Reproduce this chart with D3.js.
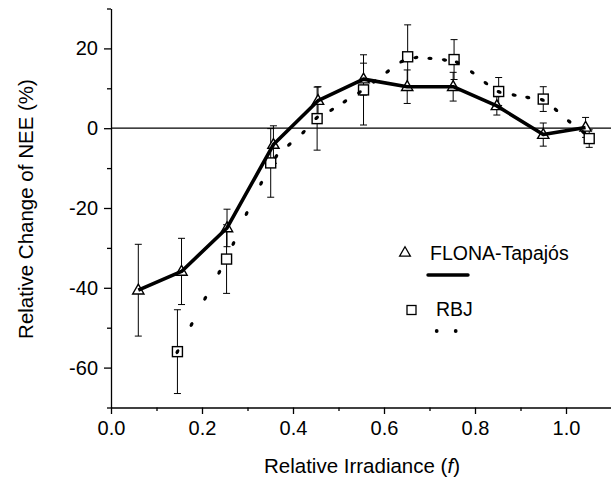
<!DOCTYPE html>
<meta charset="utf-8">
<style>
body { margin: 0; background: #fff; }
text { font-family: "Liberation Sans", Arial, sans-serif; fill: #000; }
.axis path, .axis line { stroke: #000; stroke-width: 1.3px; }
.axis text { font-size: 20px; }
</style>
<body>
<script src="https://d3js.org/d3.v7.min.js"></script>
<script>

// FLONA-Tapajos: relative irradiance, relative change of NEE (%), error
var flonaF   = [0.060, 0.155, 0.255, 0.357, 0.455, 0.555, 0.651, 0.752, 0.848, 0.950, 1.043];
var flonaVal = [-40.6, -35.9, -25.0, -4.1, 6.9, 12.3, 10.4, 10.4, 5.6, -1.6, 0.2];
var flonaErr = [11.5, 8.3, 4.7, 4.7, 3.5, 4.0, 4.2, 3.6, 2.3, 2.9, 2.5];

// RBJ
var rbjF   = [0.146, 0.254, 0.351, 0.453, 0.555, 0.652, 0.754, 0.852, 0.950, 1.051];
var rbjVal = [-56.0, -32.8, -8.7, 2.4, 9.6, 17.9, 17.2, 9.2, 7.3, -2.6];
var rbjErr = [10.5, 8.6, 8.6, 7.9, 8.8, 8.0, 5.0, 3.5, 3.1, 2.2];

// RBJ dotted curve, read dot by dot
var rbjCurveF = [0.146, 0.177, 0.207, 0.238, 0.269, 0.298, 0.330, 0.363, 0.392, 0.423, 0.452,
                 0.485, 0.514, 0.546, 0.579, 0.608, 0.639, 0.670, 0.701, 0.733, 0.761, 0.794,
                 0.824, 0.853, 0.886, 0.916, 0.948, 0.978, 1.007, 1.038];
var rbjCurveVal = [-56.0, -49.2, -42.6, -36.1, -28.9, -21.4, -13.8, -7.1, -4.1, -1.0, 2.6,
                   4.6, 6.7, 9.0, 11.7, 14.2, 16.7, 17.7, 17.5, 17.1, 16.5, 14.0,
                   11.3, 9.1, 8.3, 7.7, 7.1, 4.6, 1.7, -1.0];

var xTicks = [0, 0.1, 0.2, 0.3, 0.4, 0.5, 0.6, 0.7, 0.8, 0.9, 1.0];
var yTicks = [-70, -60, -50, -40, -30, -20, -10, 0, 10, 20, 30];

var width = 611, height = 477;

var x = d3.scaleLinear().domain([0, 1.1]).range([111, 611.5]);
var y = d3.scaleLinear().domain([-70, 30]).range([407.5, 8.5]);

var svg = d3.select("body").append("svg")
    .attr("width", width)
    .attr("height", height);

var isMajorX = function(d) { return Math.round(d * 10) % 2 === 0; };
var isMajorY = function(d) { return d % 20 === 0; };

// y axis: minor then major ticks
svg.append("g")
    .attr("class", "axis")
    .attr("transform", "translate(" + x(0) + ",0)")
    .call(d3.axisLeft(y).tickValues(yTicks.filter(function(d) { return !isMajorY(d); }))
      .tickSize(4).tickSizeOuter(0).tickFormat(""));
svg.append("g")
    .attr("class", "axis")
    .attr("transform", "translate(" + x(0) + ",0)")
    .call(d3.axisLeft(y).tickValues(yTicks.filter(isMajorY))
      .tickSize(7).tickSizeOuter(0).tickPadding(6).tickFormat(function(d) { return String(d); }))
    .call(function(g) { g.select(".domain").remove(); });

// x axis
svg.append("g")
    .attr("class", "axis")
    .attr("transform", "translate(0," + y(-70) + ")")
    .call(d3.axisBottom(x).tickValues(xTicks.filter(function(d) { return !isMajorX(d); }))
      .tickSize(3.5).tickSizeOuter(0).tickFormat(""));
svg.append("g")
    .attr("class", "axis")
    .attr("transform", "translate(0," + y(-70) + ")")
    .call(d3.axisBottom(x).tickValues(xTicks.filter(isMajorX))
      .tickSize(6.5).tickSizeOuter(0).tickPadding(7).tickFormat(d3.format(".1f")))
    .call(function(g) { g.select(".domain").remove(); });

// zero line
svg.append("line")
    .attr("x1", x(0)).attr("x2", x(1.1))
    .attr("y1", y(0)).attr("y2", y(0))
    .attr("stroke", "#000").attr("stroke-width", 1.3);

// axis titles
svg.append("text")
    .attr("transform", "translate(33," + 209 + ") rotate(-90)")
    .attr("text-anchor", "middle")
    .style("font-size", "20.5px")
    .text("Relative Change of NEE (%)");

var xt = svg.append("text")
    .attr("x", 362).attr("y", 473)
    .attr("text-anchor", "middle")
    .style("font-size", "20.5px");
xt.append("tspan").text("Relative Irradiance (");
xt.append("tspan").style("font-style", "italic").text("f");
xt.append("tspan").text(")");

var flona = flonaF.map(function(f, i) { return {f: f, v: flonaVal[i], e: flonaErr[i]}; });
var rbj = rbjF.map(function(f, i) { return {f: f, v: rbjVal[i], e: rbjErr[i]}; });
var rbjCurve = rbjCurveF.map(function(f, i) { return {f: f, v: rbjCurveVal[i]}; });

// error bars
function errorBars(data) {
  var g = svg.append("g").attr("stroke", "#000").attr("stroke-width", 1);
  data.forEach(function(d) {
    var cx = x(d.f);
    g.append("line").attr("x1", cx).attr("x2", cx)
      .attr("y1", y(d.v - d.e)).attr("y2", y(d.v + d.e));
    [d.v - d.e, d.v + d.e].forEach(function(v) {
      g.append("line").attr("x1", cx - 3.5).attr("x2", cx + 3.5)
        .attr("y1", y(v)).attr("y2", y(v));
    });
  });
}
errorBars(rbj);
errorBars(flona);

var triangle = d3.symbol().type(d3.symbolTriangle).size(55);

// markers
svg.append("g").selectAll("rect")
    .data(rbj)
  .enter().append("rect")
    .attr("x", function(d) { return x(d.f) - 5; })
    .attr("y", function(d) { return y(d.v) - 5; })
    .attr("width", 10).attr("height", 10)
    .attr("fill", "#fff").attr("stroke", "#000").attr("stroke-width", 1.4);

svg.append("g").selectAll("path")
    .data(flona)
  .enter().append("path")
    .attr("d", triangle)
    .attr("transform", function(d) { return "translate(" + x(d.f) + "," + (y(d.v) + 0.5) + ")"; })
    .attr("fill", "#fff").attr("stroke", "#000").attr("stroke-width", 1.4);

// RBJ dotted curve
svg.append("g").selectAll("ellipse")
    .data(rbjCurve)
  .enter().append("ellipse")
    .attr("rx", 2.6).attr("ry", 1.7)
    .attr("transform", function(d, i) {
      var a = rbjCurve[Math.max(i - 1, 0)], b = rbjCurve[Math.min(i + 1, rbjCurve.length - 1)];
      var ang = Math.atan2(y(b.v) - y(a.v), x(b.f) - x(a.f)) * 180 / Math.PI;
      return "translate(" + x(d.f) + "," + y(d.v) + ") rotate(" + ang + ")";
    })
    .attr("fill", "#000");

// FLONA solid line
var line = d3.line()
    .x(function(d) { return x(d.f); })
    .y(function(d) { return y(d.v); });

svg.append("path")
    .datum(flona)
    .attr("d", line)
    .attr("fill", "none")
    .attr("stroke", "#000")
    .attr("stroke-width", 3.6)
    .attr("stroke-linejoin", "round");

// legend
var lg = svg.append("g");
lg.append("path")
    .attr("d", d3.symbol().type(d3.symbolTriangle).size(50))
    .attr("transform", "translate(405,253)")
    .attr("fill", "#fff").attr("stroke", "#000").attr("stroke-width", 1.3);
lg.append("text").attr("x", 430).attr("y", 260).style("font-size", "19.5px").text("FLONA-Tapajós");
lg.append("line").attr("x1", 428).attr("x2", 468).attr("y1", 275).attr("y2", 275)
    .attr("stroke", "#000").attr("stroke-width", 3.4).attr("stroke-linecap", "round");
lg.append("rect").attr("x", 407).attr("y", 305.5).attr("width", 9).attr("height", 9)
    .attr("fill", "#fff").attr("stroke", "#000").attr("stroke-width", 1.3);
lg.append("text").attr("x", 436).attr("y", 316).style("font-size", "19.5px").text("RBJ");
[436.7, 455.7].forEach(function(cx) {
  lg.append("circle").attr("cx", cx).attr("cy", 331).attr("r", 1.9).attr("fill", "#000");
});

</script>
</body>
